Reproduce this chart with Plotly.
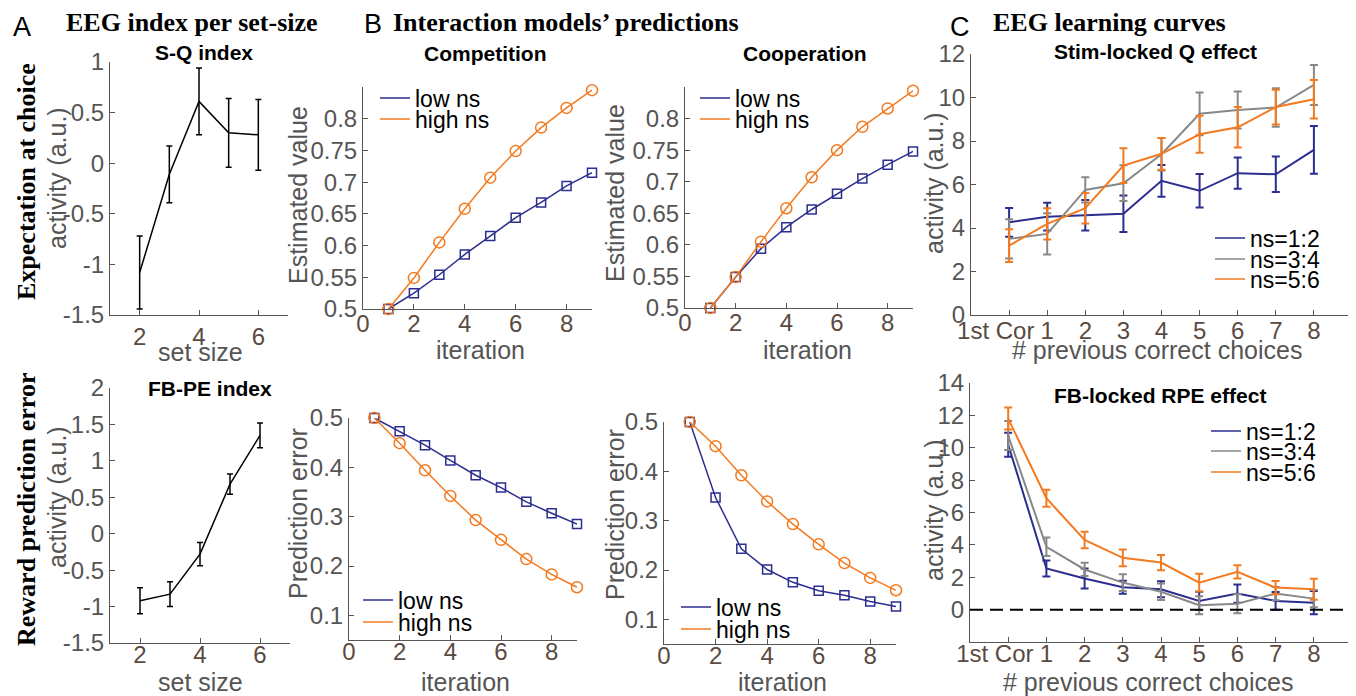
import plotly.graph_objects as go

# page is 1356x696; the browser body adds an 8px margin at top/left (overflow is cropped)
PAGE_W, PAGE_H, OFF = 1356, 696, 8
W, H = PAGE_W - OFF, PAGE_H - OFF

# ---------------- data ----------------
set_size = [2, 3, 4, 5, 6]
sq_mean = [-1.08, -0.11, 0.61, 0.30, 0.28]
sq_sem = [0.36, 0.28, 0.33, 0.34, 0.35]
fbpe_mean = [-0.92, -0.83, -0.28, 0.68, 1.35]
fbpe_sem = [0.18, 0.17, 0.16, 0.14, 0.17]

iteration = [1, 2, 3, 4, 5, 6, 7, 8, 9]
comp_val_low = [0.500, 0.525, 0.554, 0.586, 0.615, 0.644, 0.668, 0.694, 0.715]
comp_val_high = [0.500, 0.549, 0.605, 0.658, 0.707, 0.749, 0.786, 0.817, 0.845]
coop_val_low = [0.500, 0.549, 0.594, 0.628, 0.656, 0.681, 0.705, 0.727, 0.748]
coop_val_high = [0.500, 0.549, 0.605, 0.658, 0.707, 0.750, 0.787, 0.816, 0.844]
comp_pe_low = [0.500, 0.473, 0.445, 0.414, 0.384, 0.359, 0.330, 0.307, 0.285]
comp_pe_high = [0.500, 0.449, 0.394, 0.342, 0.293, 0.253, 0.214, 0.183, 0.157]
coop_pe_low = [0.500, 0.347, 0.243, 0.201, 0.175, 0.158, 0.149, 0.136, 0.126]
coop_pe_high = [0.500, 0.451, 0.392, 0.339, 0.293, 0.252, 0.214, 0.184, 0.159]

prev_correct = [0, 1, 2, 3, 4, 5, 6, 7, 8]
prev_correct_labels = ["1st Cor\u00a0\u00a0\u00a0\u00a0", "1", "2", "3", "4", "5", "6", "7", "8"]
q_ns12 = [4.26, 4.52, 4.59, 4.66, 6.17, 5.71, 6.52, 6.47, 7.59]
q_ns12_sem = [0.66, 0.64, 0.70, 0.84, 0.73, 0.77, 0.72, 0.82, 1.10]
q_ns34 = [3.50, 3.73, 5.75, 6.06, 7.39, 9.25, 9.43, 9.54, 10.58]
q_ns34_sem = [0.90, 0.95, 0.58, 0.82, 0.75, 0.98, 0.85, 0.89, 0.92]
q_ns56 = [3.19, 4.19, 4.91, 6.87, 7.41, 8.31, 8.63, 9.56, 9.92]
q_ns56_sem = [0.75, 0.72, 0.70, 0.80, 0.73, 0.85, 0.93, 0.80, 0.88]
rpe_ns12 = [10.19, 2.54, 1.92, 1.38, 1.26, 0.54, 0.99, 0.54, 0.43]
rpe_ns12_sem = [0.74, 0.49, 0.62, 0.40, 0.50, 0.57, 0.56, 0.55, 0.72]
rpe_ns34 = [10.76, 3.88, 2.48, 1.67, 1.10, 0.27, 0.37, 0.99, 0.68]
rpe_ns34_sem = [0.90, 0.57, 0.41, 0.52, 0.51, 0.55, 0.60, 0.41, 0.54]
rpe_ns56 = [11.80, 6.88, 4.30, 3.20, 2.91, 1.67, 2.33, 1.36, 1.26]
rpe_ns56_sem = [0.68, 0.52, 0.51, 0.52, 0.47, 0.55, 0.41, 0.41, 0.65]

BLUE = "#2b2e8f"
ORANGE = "#f47a20"
GRAY = "#888888"
AXC = "#555555"
YTC = "#555555"
XTC = "#5a4a42"
SANS = "Liberation Sans, Arial, Helvetica, sans-serif"
SERIF = "Liberation Serif, Times New Roman, serif"
TICK = 24
TITLE = 25
LEG = 23

def fx(px):
    return (px - OFF) / W

def fy(py):
    return 1 - (py - OFF) / H

def clamp(v):
    return max(0.0, min(1.0, v))

fig = go.Figure()

# ---------------- panel A ----------------
fig.add_trace(go.Scatter(x=set_size, y=sq_mean, mode="lines", line=dict(color="black", width=1.5),
                         error_y=dict(type="data", array=sq_sem, color="black", thickness=1.5, width=3),
                         xaxis="x", yaxis="y", showlegend=False, cliponaxis=False))
fig.add_trace(go.Scatter(x=set_size, y=fbpe_mean, mode="lines", line=dict(color="black", width=1.5),
                         error_y=dict(type="data", array=fbpe_sem, color="black", thickness=1.5, width=3),
                         xaxis="x2", yaxis="y2", showlegend=False, cliponaxis=False))

# ---------------- panel B ----------------
def model_pair(low, high, ax, ay):
    fig.add_trace(go.Scatter(x=iteration, y=low, mode="lines+markers",
                             line=dict(color=BLUE, width=1.5),
                             marker=dict(symbol="square-open", size=9, color=BLUE, line=dict(width=1.5)),
                             xaxis=ax, yaxis=ay, showlegend=False, cliponaxis=False))
    fig.add_trace(go.Scatter(x=iteration, y=high, mode="lines+markers",
                             line=dict(color=ORANGE, width=1.5),
                             marker=dict(symbol="circle-open", size=11, color=ORANGE, line=dict(width=1.5)),
                             xaxis=ax, yaxis=ay, showlegend=False, cliponaxis=False))

model_pair(comp_val_low, comp_val_high, "x3", "y3")
model_pair(coop_val_low, coop_val_high, "x4", "y4")
model_pair(comp_pe_low, comp_pe_high, "x5", "y5")
model_pair(coop_pe_low, coop_pe_high, "x6", "y6")

# ---------------- panel C ----------------
def curve(y, sem, color, ax, ay):
    fig.add_trace(go.Scatter(x=prev_correct, y=y, mode="lines", line=dict(color=color, width=2),
                             error_y=dict(type="data", array=sem, color=color, thickness=2, width=4),
                             xaxis=ax, yaxis=ay, showlegend=False, cliponaxis=False))

curve(q_ns12, q_ns12_sem, BLUE, "x7", "y7")
curve(q_ns34, q_ns34_sem, GRAY, "x7", "y7")
curve(q_ns56, q_ns56_sem, ORANGE, "x7", "y7")
curve(rpe_ns12, rpe_ns12_sem, BLUE, "x8", "y8")
curve(rpe_ns34, rpe_ns34_sem, GRAY, "x8", "y8")
curve(rpe_ns56, rpe_ns56_sem, ORANGE, "x8", "y8")

# ---------------- legends (one entry each for tight spacing) ----------------
legends = {}
leg_count = [0]

def legend_entry(name, color, text_x, text_y, fsize=LEG):
    leg_count[0] += 1
    key = "legend" if leg_count[0] == 1 else "legend%d" % leg_count[0]
    legends[key] = dict(x=fx(text_x - 42), y=fy(text_y), xanchor="left", yanchor="middle",
                        bgcolor="rgba(0,0,0,0)", borderwidth=0,
                        font=dict(family=SANS, size=fsize, color="black"))
    fig.add_trace(go.Scatter(x=[None], y=[None], mode="lines", name=name,
                             line=dict(color=color, width=1.5), legend=key, showlegend=True))

legend_entry("low ns", BLUE, 417, 98)
legend_entry("high ns", ORANGE, 417, 119)
legend_entry("low ns", BLUE, 737, 98)
legend_entry("high ns", ORANGE, 737, 119)
legend_entry("low ns", BLUE, 400, 600)
legend_entry("high ns", ORANGE, 400, 622)
legend_entry("low ns", BLUE, 718, 607)
legend_entry("high ns", ORANGE, 718, 629)
legend_entry("ns=1:2", BLUE, 1252, 238)
legend_entry("ns=3:4", GRAY, 1252, 259)
legend_entry("ns=5:6", ORANGE, 1252, 279)
legend_entry("ns=1:2", BLUE, 1248, 431)
legend_entry("ns=3:4", GRAY, 1248, 451)
legend_entry("ns=5:6", ORANGE, 1248, 472)

# ---------------- axes ----------------
def ax_common(tcolor):
    return dict(showline=True, linecolor=AXC, linewidth=1, ticks="inside", ticklen=5,
                tickcolor=AXC, tickwidth=1, showgrid=False, zeroline=False, mirror=False,
                automargin=False, tickangle=0,
                tickfont=dict(family=SANS, size=TICK, color=tcolor))

layout_axes = {}

def set_axes(i, xpx, ypx, xr, yr, xtv, xtt, ytv, ytt, xstand=0):
    xn = "xaxis" if i == 1 else "xaxis%d" % i
    yn = "yaxis" if i == 1 else "yaxis%d" % i
    d0, d1 = fx(xpx[0]), fx(xpx[1])
    if d1 > 1.0:
        frac = (1.0 - d0) / (d1 - d0)
        xr = [xr[0], xr[0] + (xr[1] - xr[0]) * frac]
        d1 = 1.0
    xa = ax_common(XTC)
    xa.update(domain=[clamp(d0), d1], range=xr, tickvals=xtv, ticktext=xtt,
              anchor="y" if i == 1 else "y%d" % i, ticklabelstandoff=xstand)
    ya = ax_common(YTC)
    ya.update(domain=[clamp(fy(ypx[1])), clamp(fy(ypx[0]))], range=yr, tickvals=ytv, ticktext=ytt,
              anchor="x" if i == 1 else "x%d" % i)
    layout_axes[xn] = xa
    layout_axes[yn] = ya

a_yt = [-1.5, -1, -0.5, 0, 0.5, 1]
a_ytt = ["-1.5", "-1", "-0.5", "0", "0.5", "1"]
a2_yt = [-1.5, -1, -0.5, 0, 0.5, 1, 1.5, 2]
a2_ytt = ["-1.5", "-1", "-0.5", "0", "0.5", "1", "1.5", "2"]
set_axes(1, (110, 288), (62, 315), [1, 7], [-1.5, 1], [2, 4, 6], ["2", "4", "6"], a_yt, a_ytt, 0)
set_axes(2, (110, 290), (388, 643), [1, 7], [-1.5, 2], [2, 4, 6], ["2", "4", "6"], a2_yt, a2_ytt, -10)

b_xt = [0, 2, 4, 6, 8]
b_xtt = ["0", "2", "4", "6", "8"]
bv_yt = [0.5, 0.55, 0.6, 0.65, 0.7, 0.75, 0.8]
bv_ytt = ["0.5", "0.55", "0.6", "0.65", "0.7", "0.75", "0.8"]
bp_yt = [0.1, 0.2, 0.3, 0.4, 0.5]
bp_ytt = ["0.1", "0.2", "0.3", "0.4", "0.5"]
set_axes(3, (363, 592), (87, 309), [0, 9], [0.5, 0.85], b_xt, b_xtt, bv_yt, bv_ytt, -7)
set_axes(4, (685, 913), (87, 308), [0, 9], [0.5, 0.85], b_xt, b_xtt, bv_yt, bv_ytt, -7)
set_axes(5, (349, 577), (418, 640), [0, 9], [0.05, 0.5], b_xt, b_xtt, bp_yt, bp_ytt, -10)
set_axes(6, (664, 896), (422, 644), [0, 9], [0.05, 0.5], b_xt, b_xtt, bp_yt, bp_ytt, -10)

cq_yt = [0, 2, 4, 6, 8, 10, 12]
cq_ytt = ["0", "2", "4", "6", "8", "10", "12"]
cr_yt = [0, 2, 4, 6, 8, 10, 12, 14]
cr_ytt = ["0", "2", "4", "6", "8", "10", "12", "14"]
set_axes(7, (971, 1352), (54, 315), [-1, 9], [0, 12], prev_correct, prev_correct_labels, cq_yt, cq_ytt, -6)
set_axes(8, (970, 1352), (383, 642), [-1, 9], [-2, 14], prev_correct, prev_correct_labels, cr_yt, cr_ytt, -10)

# ---------------- text ----------------
annotations = []

def ann(text, px, py, size, family=SANS, color="black", bold=False, angle=0, xanchor="center"):
    t = "<b>%s</b>" % text if bold else text
    annotations.append(dict(text=t, x=fx(px), y=fy(py), xref="paper", yref="paper",
                            xanchor=xanchor, yanchor="middle", showarrow=False, textangle=angle,
                            font=dict(family=family, size=size, color=color)))

# panel letters and headings
ann("A", 22, 27, 27)
ann("EEG index per set-size", 64, 22, 26, SERIF, bold=True, xanchor="left")
ann("B", 373, 24, 27)
ann("Interaction models\u2019 predictions", 391, 22, 26, SERIF, bold=True, xanchor="left")
ann("C", 960, 27, 27)
ann("EEG learning curves", 991, 22, 26, SERIF, bold=True, xanchor="left")

# row labels
ann("Expectation at choice", 26, 182, 26, SERIF, bold=True, angle=-90)
ann("Reward prediction error", 26, 510, 26, SERIF, bold=True, angle=-90)

# subplot titles
ann("S-Q index", 204, 52, 21, bold=True)
ann("FB-PE index", 210, 388, 21, bold=True)
ann("Competition", 485, 53, 21, bold=True)
ann("Cooperation", 805, 53, 21, bold=True)
ann("Stim-locked Q effect", 1155, 51, 21, bold=True)
ann("FB-locked RPE effect", 1160, 395, 21, bold=True)

# y axis titles
ann("activity (a.u.)", 57, 178, TITLE, color=YTC, angle=-90)
ann("activity (a.u.)", 57, 497, TITLE, color=YTC, angle=-90)
ann("Estimated value", 298, 195, TITLE, color=YTC, angle=-90)
ann("Estimated value", 615, 193, TITLE, color=YTC, angle=-90)
ann("Prediction error", 298, 514, TITLE, color=YTC, angle=-90)
ann("Prediction error", 615, 515, TITLE, color=YTC, angle=-90)
ann("activity (a.u.)", 934, 183, TITLE, color=YTC, angle=-90)
ann("activity (a.u.)", 934, 510, TITLE, color=YTC, angle=-90)

# x axis titles
ann("set size", 200, 352, TITLE, color=YTC)
ann("set size", 200, 682, TITLE, color=YTC)
ann("iteration", 480, 350, TITLE, color=YTC)
ann("iteration", 807, 350, TITLE, color=YTC)
ann("iteration", 465, 682, TITLE, color=YTC)
ann("iteration", 783, 682, TITLE, color=YTC)
ann("# previous correct choices", 1157, 350, TITLE, color=YTC)
ann("# previous correct choices", 1148, 682, TITLE, color=YTC)

shapes = [dict(type="line", xref="x8 domain", yref="y8", x0=0, x1=1, y0=0, y1=0,
               line=dict(color="black", width=2, dash="13px,7px"))]

fig.update_layout(template="none", width=W, height=H, margin=dict(l=0, r=0, t=0, b=0, pad=0),
                  autosize=False, paper_bgcolor="white", plot_bgcolor="white",
                  annotations=annotations, shapes=shapes, **layout_axes, **legends)

fig.write_html("out.html")
